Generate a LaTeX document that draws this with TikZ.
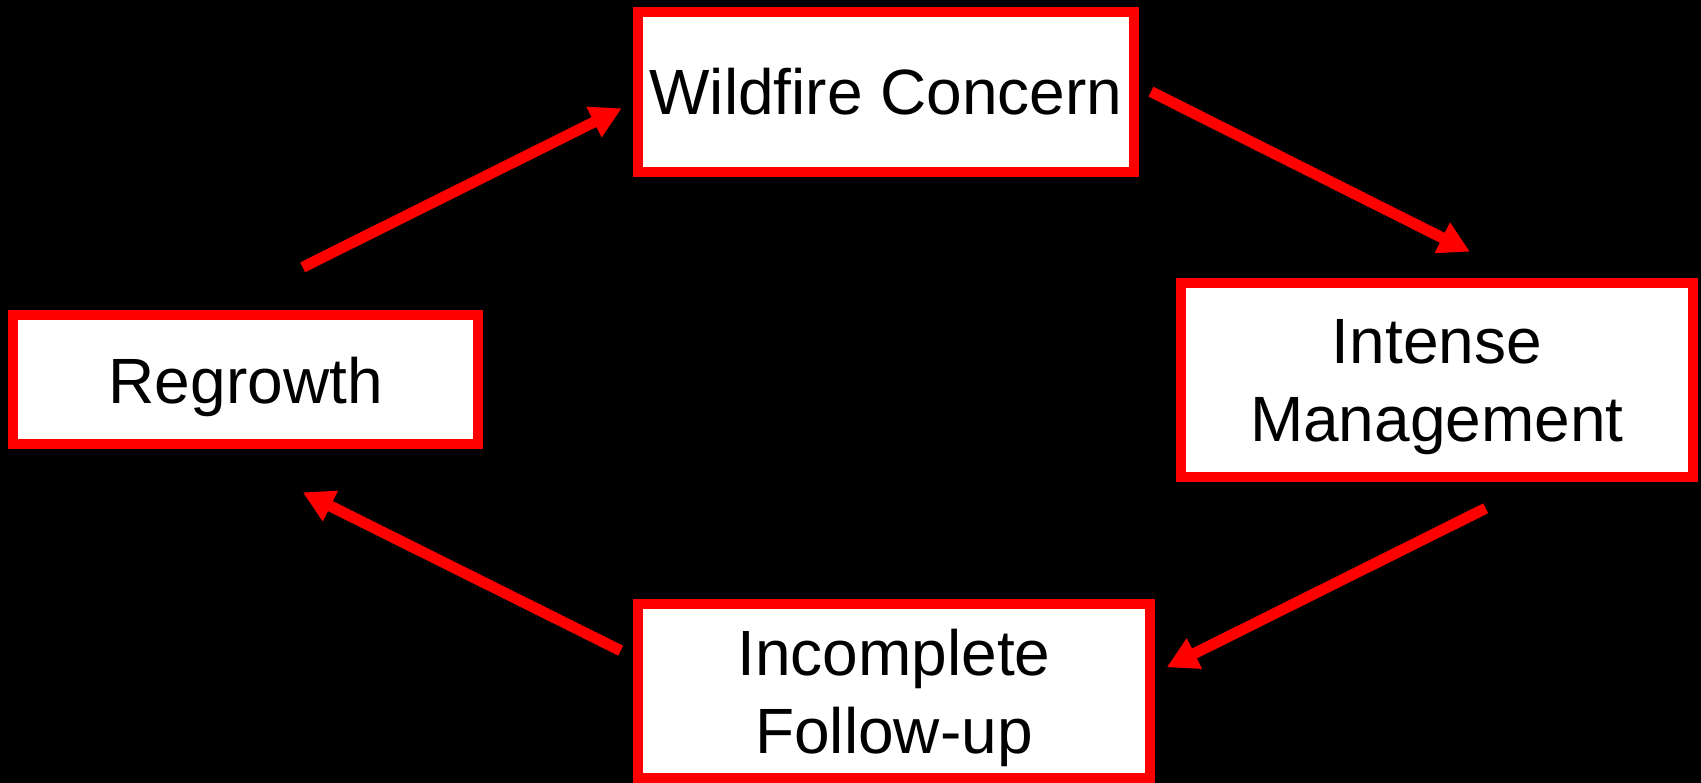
\documentclass[tikz,border=0pt]{standalone}
\usepackage{fontspec}
\setmainfont{Liberation Sans}
\usetikzlibrary{arrows.meta}
\definecolor{boxred}{RGB}{255,0,0}
\tikzset{
  box/.style={draw=boxred, line width=10pt, fill=white, inner sep=0pt,
    align=center, text depth=0pt, font=\fontsize{64}{78}\selectfont},
  flow/.style={draw=boxred, line width=11pt, line cap=butt,
    -{Triangle[length=31pt,width=32pt]}}
}
\begin{document}
\begin{tikzpicture}[x=1pt,y=-1pt]
\fill[black] (0,0) rectangle (1701,783);
\useasboundingbox (0,0) rectangle (1701,783);

\node[box, minimum width=465pt, minimum height=129pt] (R) at (245.7,380) {Regrowth};
\node[box, minimum width=496pt, minimum height=160pt] (W) at (886,91.7) {Wildfire Concern};
\node[box, minimum width=512.5pt, minimum height=193.4pt] (I) at (1436.8,380) {Intense\\Management};
\node[box, minimum width=512pt, minimum height=174pt] (F) at (894,691) {Incomplete\\Follow-up};

\coordinate (a1s) at (302.7,267.3);
\coordinate (a1e) at (621.7,108.3);
\coordinate (a2s) at (1151,91.7);
\coordinate (a2e) at (1470,251.7);
\coordinate (a3s) at (1485.7,508.3);
\coordinate (a3e) at (1166.7,667.3);
\coordinate (a4s) at (620.7,650.7);
\coordinate (a4e) at (302.7,492.3);

\draw[flow] (a1s) -- (a1e);
\draw[flow] (a2s) -- (a2e);
\draw[flow] (a3s) -- (a3e);
\draw[flow] (a4s) -- (a4e);
\end{tikzpicture}
\end{document}
